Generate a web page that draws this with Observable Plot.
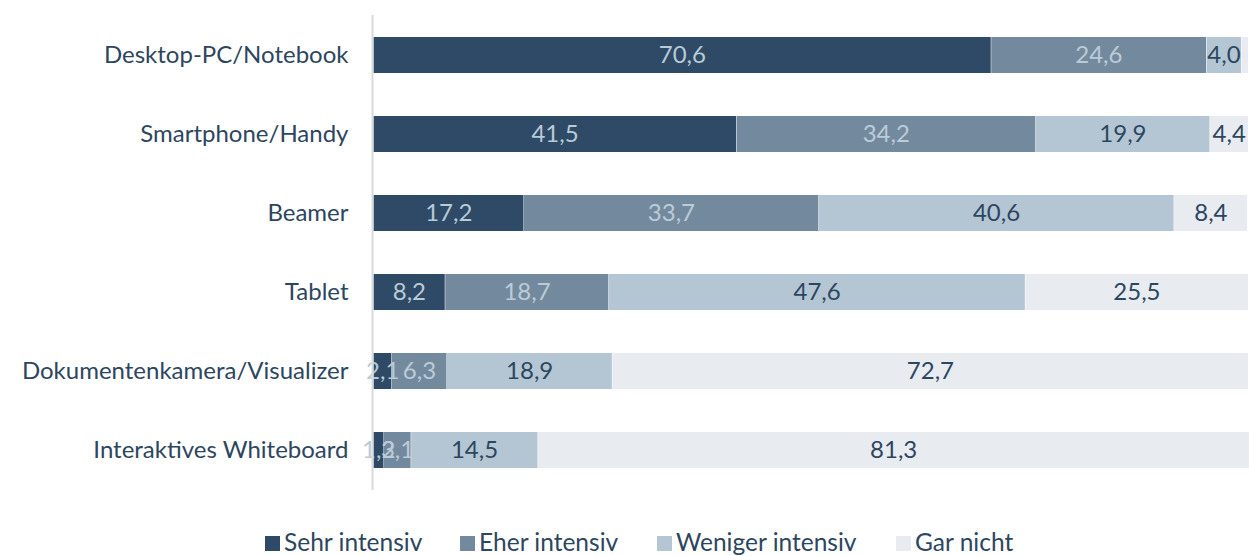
<!DOCTYPE html>
<html>
<head>
<meta charset="utf-8">
<script src="https://cdn.jsdelivr.net/npm/d3@7"></script>
<script src="https://cdn.jsdelivr.net/npm/@observablehq/plot@0.6"></script>
<style>
  html, body { margin: 0; padding: 0; background: #fff; }
  #chart { width: 1249px; height: 500px; }
  #legend { position: relative; width: 1249px; height: 56px;
    font-family: Lato, "Open Sans", sans-serif; font-size: 24.5px; color: #2d4660; }
  #legend .sw { position: absolute; top: 36px; width: 15px; height: 15px; }
  #legend .lt { position: absolute; top: 27px; line-height: 30px; white-space: nowrap; }
</style>
</head>
<body>
<div id="chart"></div>
<div id="legend"></div>
<script>
const categories = ["Desktop-PC/Notebook", "Smartphone/Handy", "Beamer", "Tablet", "Dokumentenkamera/Visualizer", "Interaktives Whiteboard"];
const seriesNames = ["Sehr intensiv", "Eher intensiv", "Weniger intensiv", "Gar nicht"];
const sehrIntensiv = [70.6, 41.5, 17.2, 8.2, 2.1, 1.2];
const eherIntensiv = [24.6, 34.2, 33.7, 18.7, 6.3, 3.1];
const wenigerIntensiv = [4.0, 19.9, 40.6, 47.6, 18.9, 14.5];
const garNicht = [0.8, 4.4, 8.4, 25.5, 72.7, 81.3];
const colors = ["#2e4a66", "#738a9e", "#b4c6d4", "#e8ecf1"];
const labelColors = ["#b9cad8", "#bccbd8", "#2d4660", "#2d4660"];

const seriesValues = [sehrIntensiv, eherIntensiv, wenigerIntensiv, garNicht];
const data = [];
seriesNames.forEach((s, si) => {
  categories.forEach((c, ci) => {
    data.push({category: c, series: s, si, value: seriesValues[si][ci]});
  });
});
const fmt = v => v.toFixed(1).replace(".", ",");
const font = "Lato, 'Open Sans', sans-serif";

const chart = Plot.plot({
  width: 1249,
  height: 500,
  marginLeft: 373,
  marginRight: 1,
  marginTop: 15,
  marginBottom: 10,
  style: {fontFamily: font, fontSize: "24px", color: "#2d4660", background: "#fff"},
  x: {domain: [0, 100], axis: null},
  y: {domain: categories, paddingInner: 0.545, paddingOuter: 0.271, label: null},
  color: {domain: seriesNames, range: colors},
  marks: [
    Plot.barX(data, Plot.stackX({x: "value", y: "category", fill: "series", order: seriesNames, insetLeft: 0.5})),
    Plot.textX(data, Plot.stackX({
      x: "value", y: "category", z: "series", order: seriesNames,
      text: d => d.value >= 1 ? fmt(d.value) : "",
      fill: d => labelColors[d.si],
      fontSize: 24
    })),
    Plot.ruleX([0], {stroke: "#d9d9d9", strokeWidth: 2, dx: -1}),
    Plot.axisY({tickSize: 0, tickPadding: 25, fontSize: 24, fill: "#2d4660", label: null})
  ]
});
document.getElementById("chart").appendChild(chart);

const legend = document.getElementById("legend");
const swatchX = [265, 460, 657, 896];
seriesNames.forEach((s, i) => {
  const sw = document.createElement("div");
  sw.className = "sw";
  sw.style.left = swatchX[i] + "px";
  sw.style.background = colors[i];
  legend.appendChild(sw);
  const t = document.createElement("div");
  t.className = "lt";
  t.style.left = (swatchX[i] + 19) + "px";
  t.textContent = s;
  legend.appendChild(t);
});
</script>
</body>
</html>
